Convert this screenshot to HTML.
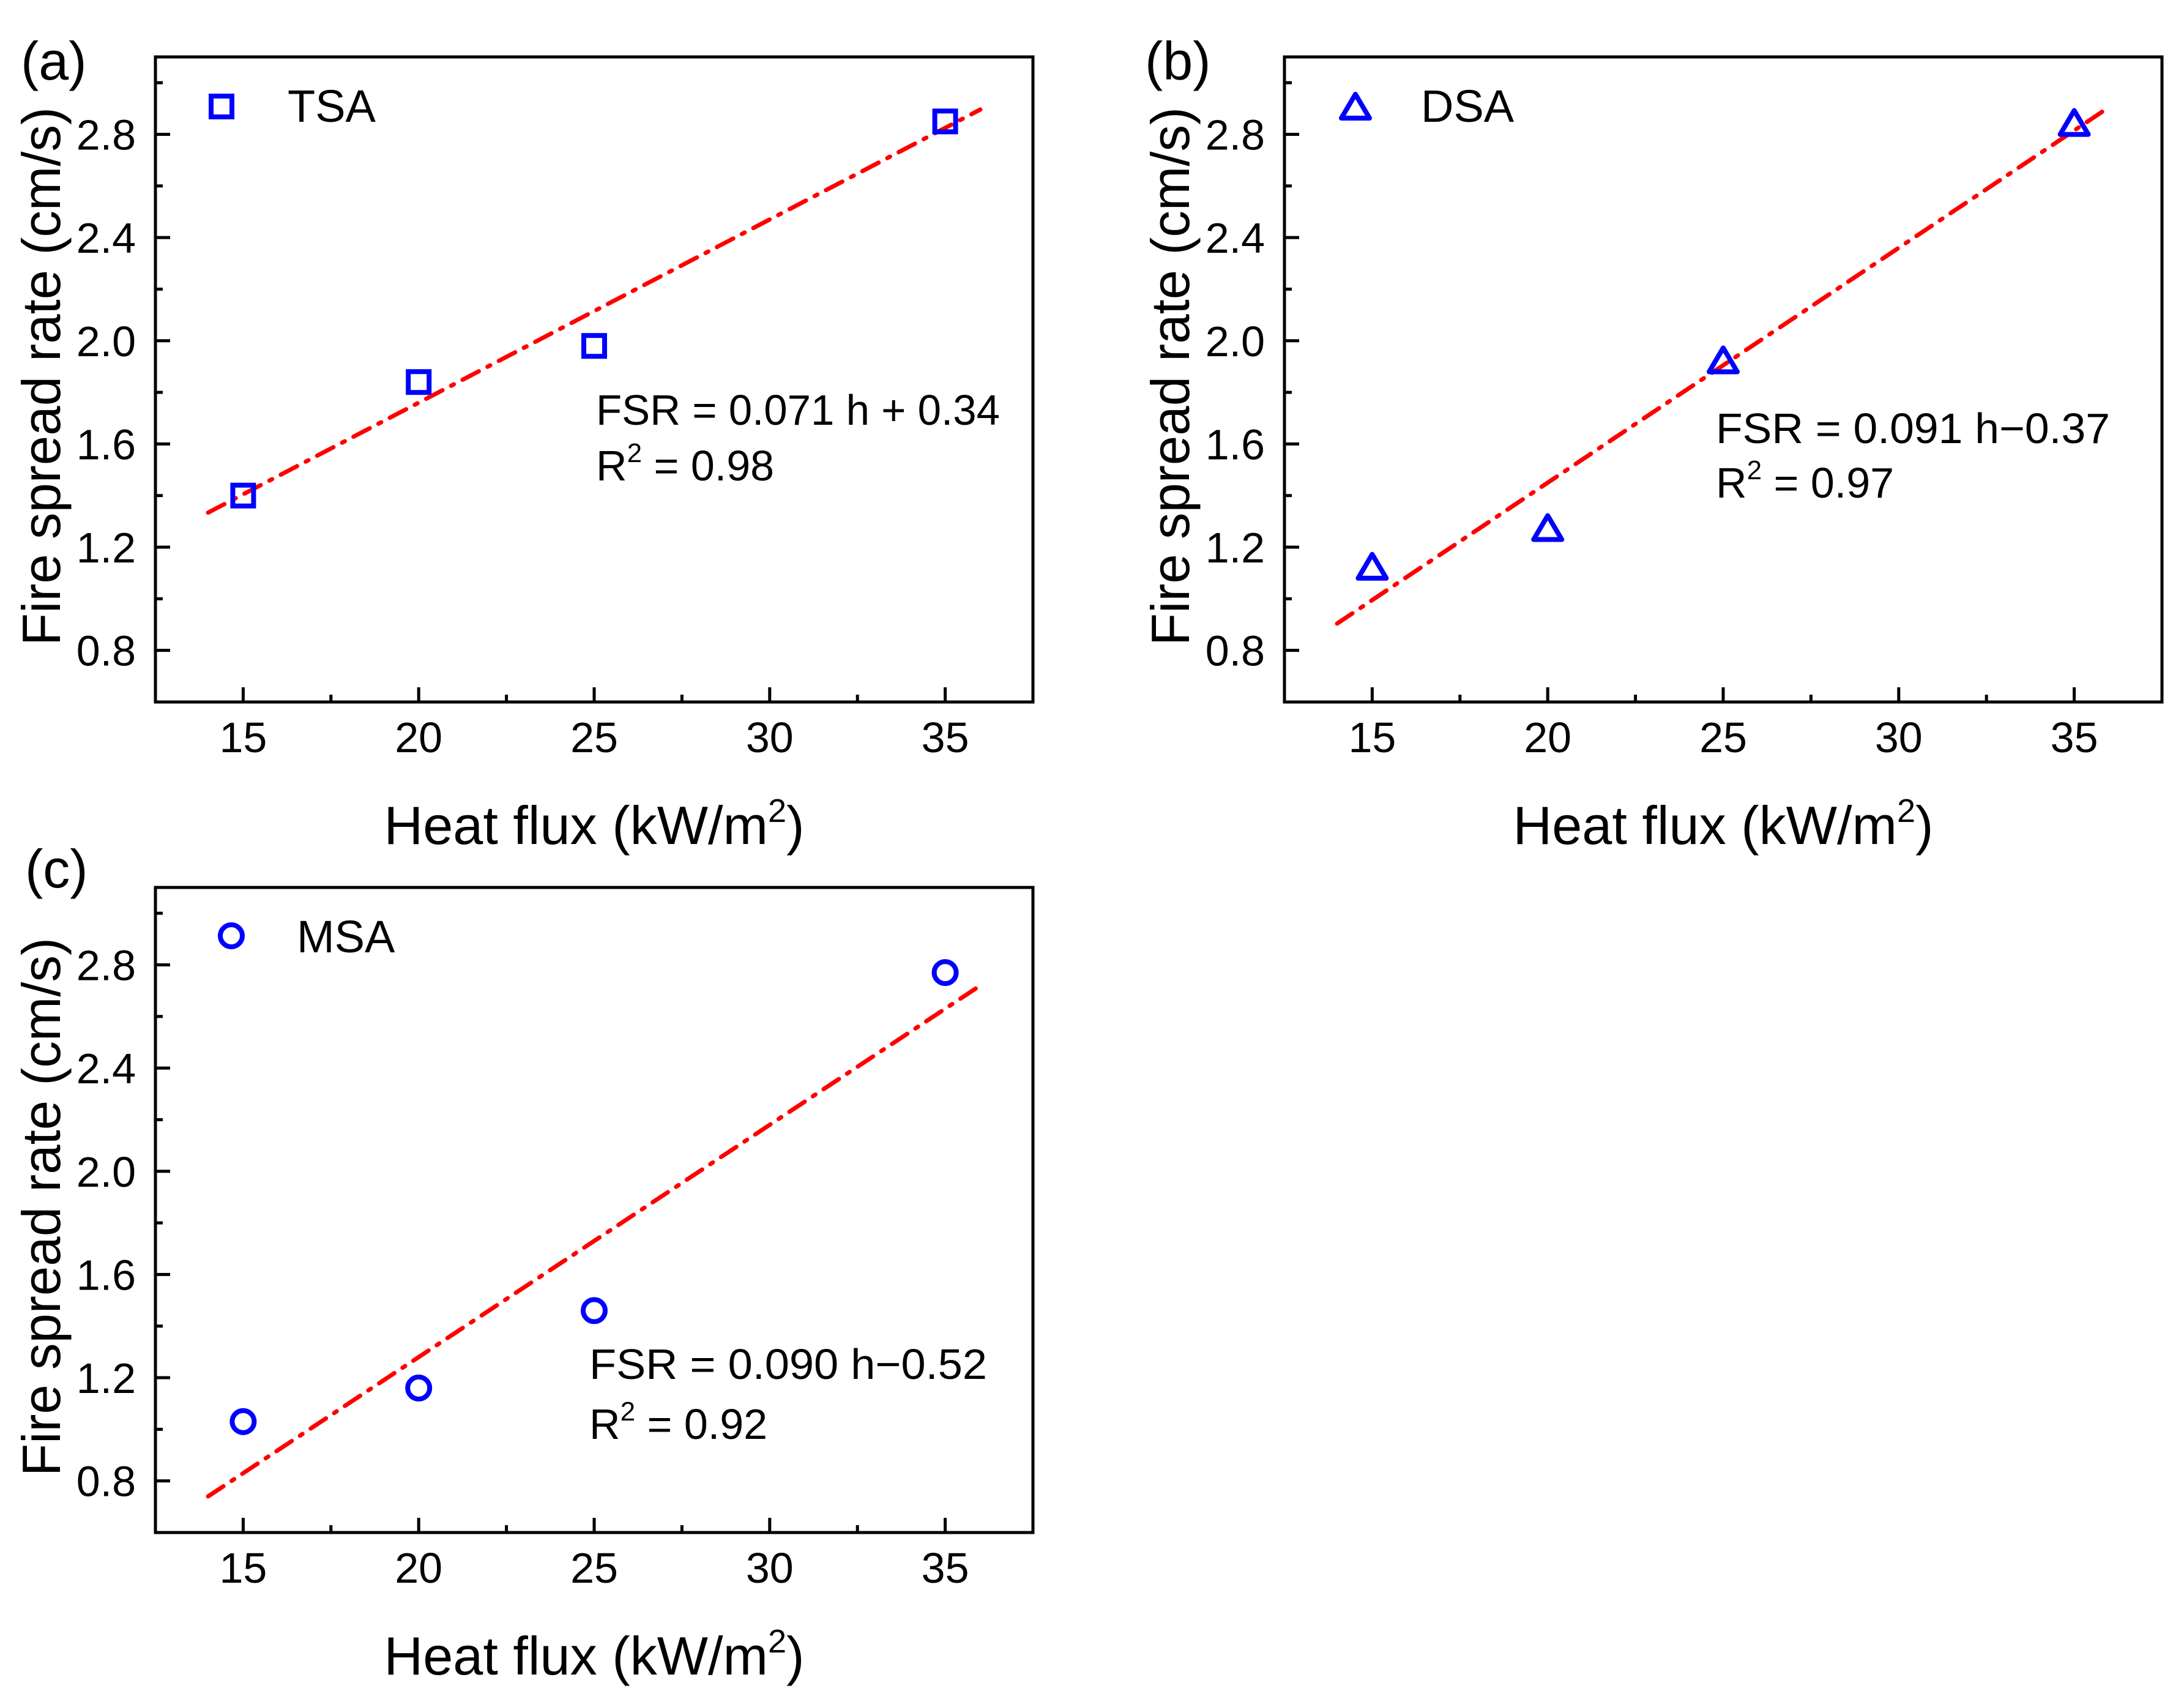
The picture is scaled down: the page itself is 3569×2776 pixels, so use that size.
<!DOCTYPE html>
<html><head><meta charset="utf-8"><style>
html,body{margin:0;padding:0;background:#fff}
svg{display:block}
text{font-family:"Liberation Sans",Arial,sans-serif;fill:#000}
</style></head><body>
<svg id="chart" width="3569" height="2776" viewBox="0 0 3569 2776" xmlns="http://www.w3.org/2000/svg"></svg>
<script>
const xTicks = [15, 20, 25, 30, 35];
const yTicks = [0.8, 1.2, 1.6, 2.0, 2.4, 2.8];
const yTickLabels = ["0.8", "1.2", "1.6", "2.0", "2.4", "2.8"];
const heatFlux = [15, 20, 25, 35];
const tsaRate = [1.40, 1.84, 1.98, 2.85];
const dsaRate = [1.12, 1.27, 1.92, 2.84];
const msaRate = [1.03, 1.16, 1.46, 2.77];
const tsaFit = [0.071, 0.34];
const dsaFit = [0.091, -0.37];
const msaFit = [0.090, -0.52];
const fitRange = [14, 36];
const xDomain = [12.5, 37.5];
const yDomain = [0.6, 3.1];

const NS = "http://www.w3.org/2000/svg";
const svg = document.getElementById("chart");
function mk(tag, attrs, parent, txt) {
  const e = document.createElementNS(NS, tag);
  for (const k in attrs) e.setAttribute(k, attrs[k]);
  if (txt !== undefined) e.textContent = txt;
  (parent || svg).appendChild(e);
  return e;
}

const panels = [
  {id:"a", left:254, top:93, vals:tsaRate, fit:tsaFit, marker:"square", legend:"TSA",
   label:[34,130], legPos:[362,174], legText:[470,199],
   eq:"FSR = 0.071 h + 0.34", eqPos:[974,694,660], r2:"0.98", r2Pos:[974,785]},
  {id:"b", left:2099, top:93, vals:dsaRate, fit:dsaFit, marker:"triangle", legend:"DSA",
   label:[1871,130], legPos:[2215,176], legText:[2322,199],
   eq:"FSR =  0.091 h\u22120.37", eqPos:[2804,724,644], r2:"0.97", r2Pos:[2804,813]},
  {id:"c", left:254, top:1450, vals:msaRate, fit:msaFit, marker:"circle", legend:"MSA",
   label:[41,1450], legPos:[378,1529], legText:[485,1556],
   eq:"FSR =  0.090 h\u22120.52", eqPos:[963,2253,650], r2:"0.92", r2Pos:[963,2351]}
];
const W = 1434, H = 1054;

function drawMarker(g, type, cx, cy, name) {
  let m;
  if (type === "square") m = mk("rect", {x:cx-17, y:cy-17, width:34, height:34, fill:"none", stroke:"#0000ff", "stroke-width":8}, g);
  else if (type === "circle") m = mk("circle", {cx:cx, cy:cy, r:18, fill:"none", stroke:"#0000ff", "stroke-width":8}, g);
  else m = mk("polygon", {points:`${cx},${cy-22} ${cx+23},${cy+17} ${cx-23},${cy+17}`, fill:"none", stroke:"#0000ff", "stroke-width":8, "stroke-linejoin":"round"}, g);
  
  
  return m;
}

panels.forEach(p => {
  const g = mk("g", {});
  
  
  const xs = v => p.left + (v - xDomain[0]) / (xDomain[1] - xDomain[0]) * W;
  const ys = v => p.top + H - (v - yDomain[0]) / (yDomain[1] - yDomain[0]) * H;
  const bottom = p.top + H;

  const tg = mk("g", {stroke:"#000", "stroke-width":5}, g);
  
  
  for (let v = 12.5; v <= 37.51; v += 2.5) {
    const major = xTicks.some(t => Math.abs(t - v) < 1e-6);
    mk("line", {x1:xs(v), x2:xs(v), y1:bottom, y2:bottom - (major ? 24 : 12)}, tg);
  }
  for (let v = 0.6; v <= 3.101; v += 0.2) {
    const major = yTicks.some(t => Math.abs(t - v) < 1e-6);
    mk("line", {x1:p.left, x2:p.left + (major ? 24 : 12), y1:ys(v), y2:ys(v)}, tg);
  }
  xTicks.forEach(t => {
    const e = mk("text", {x:xs(t), y:bottom + 82, "font-size":70, "text-anchor":"middle"}, g, String(t));
    
    
  });
  yTicks.forEach((t, i) => {
    const e = mk("text", {x:p.left - 32, y:ys(t) + 25, "font-size":70, "text-anchor":"end"}, g, yTickLabels[i]);
    
    
  });

  const fl = mk("line", {x1:xs(fitRange[0]), y1:ys(p.fit[0]*fitRange[0]+p.fit[1]), x2:xs(fitRange[1]), y2:ys(p.fit[0]*fitRange[1]+p.fit[1]),
    stroke:"#ff0000", "stroke-width":7, "stroke-dasharray":"30 16 5 16", "stroke-linecap":"round"}, g);
  
  

  heatFlux.forEach((h, i) => drawMarker(g, p.marker, xs(h), ys(p.vals[i]), 'data-point'));

  const fr = mk("rect", {x:p.left, y:p.top, width:W, height:H, fill:"none", stroke:"#000", "stroke-width":5}, g);
  
  

  drawMarker(g, p.marker, p.legPos[0], p.legPos[1], 'legend-marker');
  const lt = mk("text", {x:p.legText[0], y:p.legText[1], "font-size":74}, g, p.legend);
  
  

  const eq = mk("text", {x:p.eqPos[0], y:p.eqPos[1], "font-size":70, "xml:space":"preserve", textLength:p.eqPos[2], lengthAdjust:"spacingAndGlyphs"}, g, p.eq);
  
  
  const r2 = mk("text", {x:p.r2Pos[0], y:p.r2Pos[1], "font-size":70}, g);
  
  
  mk("tspan", {}, r2, "R");
  mk("tspan", {"font-size":44, dy:-30}, r2, "2");
  mk("tspan", {dy:30}, r2, " = " + p.r2);

  const xt = mk("text", {x:p.left + W/2, y:bottom + 232, "font-size":88, "text-anchor":"middle", textLength:687, lengthAdjust:"spacingAndGlyphs"}, g);
  
  
  mk("tspan", {}, xt, "Heat flux (kW/m");
  mk("tspan", {"font-size":54, dy:-36}, xt, "2");
  mk("tspan", {dy:36}, xt, ")");
  const ycx = p.left - 156, ycy = p.top + H/2 - 5;
  const yt = mk("text", {x:ycx, y:ycy, "font-size":88, "text-anchor":"middle", textLength:880, lengthAdjust:"spacingAndGlyphs", transform:`rotate(-90 ${ycx} ${ycy})`}, g, "Fire spread rate (cm/s)");
  
  

  const pl = mk("text", {x:p.label[0], y:p.label[1], "font-size":88}, g, "(" + p.id + ")");
  
  
});
</script>
</body></html>
